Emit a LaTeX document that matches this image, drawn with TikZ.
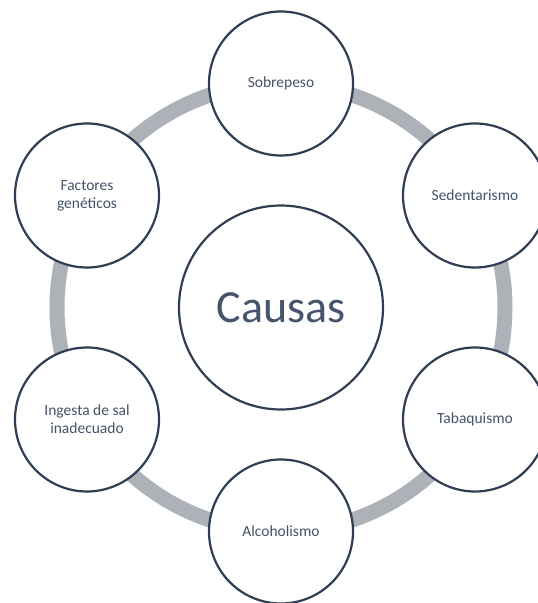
\documentclass[tikz,border=0pt]{standalone}
\usepackage{fontspec}
\setmainfont{Carlito}
\usetikzlibrary{backgrounds}
\definecolor{edge}{HTML}{2F3E53}
\definecolor{txt}{HTML}{44546A}
\definecolor{band}{HTML}{ADB1B8}
\tikzset{
  cause/.style={circle,draw=edge,line width=2.2pt,fill=white,minimum size=144pt,inner sep=0pt,
    align=center,text=txt,font=\fontsize{15.5}{18}\selectfont},
  hub/.style={cause,minimum size=204pt,font=\fontsize{46}{50}\selectfont},
  ring/.style={draw=band,line width=15pt},
}
\begin{document}
\begin{tikzpicture}[x=1pt,y=-1pt]
\useasboundingbox (0,0) rectangle (538,603);
\clip (0,0) rectangle (538,603);
\coordinate (o) at (281,307.5);
\draw[ring] (o) circle (224pt);
\node[hub] (causas) at (o) {Causas};
\node[cause] (sobre) at (281,83.5) {Sobrepeso};
\node[cause] (seden) at (475,195.5) {Sedentarismo};
\node[cause] (tabaq) at (475,419.5) {Tabaquismo};
\node[cause] (alcoh) at (281,531.5) {Alcoholismo};
\node[cause] (sal) at (87,419.5) {Ingesta de sal\\inadecuado};
\node[cause] (genes) at (87,195.5) {Factores\\genéticos};
\end{tikzpicture}
\end{document}
